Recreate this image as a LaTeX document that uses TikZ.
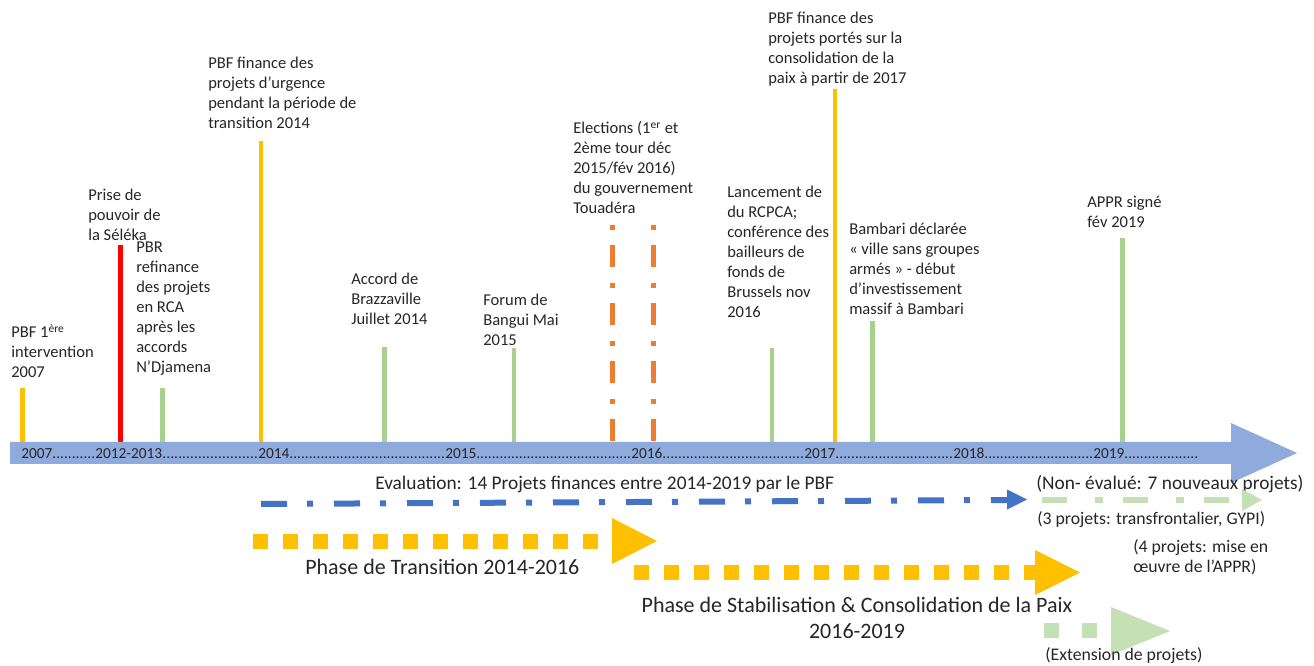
\documentclass[tikz,border=0pt]{standalone}
\usepackage{fontspec}
\setmainfont{Carlito}
\definecolor{bandc}{HTML}{8FAADC}
\definecolor{yel}{HTML}{FFC000}
\definecolor{redc}{HTML}{FF0000}
\definecolor{grn}{HTML}{A9D18E}
\definecolor{lgrn}{HTML}{C5E0B4}
\definecolor{orc}{HTML}{ED7D31}
\definecolor{blu}{HTML}{4472C4}
\definecolor{txt}{HTML}{262626}
\newcommand{\dotsto}[2]{\makebox[#1][l]{#2\xleaders\hbox{.}\hfill}}
\begin{document}
\begin{tikzpicture}[x=0.75pt,y=-0.75pt,
  lbl/.style={font=\fontsize{12.4}{15}\selectfont, align=left, inner sep=0pt, anchor=base west, text=txt},
  mid/.style={font=\fontsize{13.3}{15}\selectfont, align=left, inner sep=0pt, anchor=base west, text=txt},
  lrg/.style={font=\fontsize{14.5}{17}\selectfont, inner sep=0pt, anchor=base west, text=txt},
  yr/.style={font=\fontsize{11.5}{14}\selectfont, inner sep=0pt, anchor=base west, text=txt},
  big/.style={font=\fontsize{16.5}{19.5}\selectfont, inner sep=0pt, text=txt},
  bar/.style={line width=3.4pt},
  sq/.style={line width=11.25pt, dash pattern=on 11.25pt off 11.25pt},
]
\useasboundingbox (0,0) rectangle (1314,666);
\fill[white] (0,0) rectangle (1314,666);

% vertical markers
\draw[bar,yel]  (22.5,388) -- (22.5,443);
\draw[bar,redc] (120.5,245) -- (120.5,443);
\draw[bar,grn]  (162.5,388) -- (162.5,443);
\draw[bar,yel]  (261,141) -- (261,443);
\draw[bar,grn]  (384.5,347) -- (384.5,443);
\draw[bar,grn]  (514,348) -- (514,443);
\draw[orc,line width=3.75pt,dash pattern=on 3.75pt off 11.25pt on 16.5pt off 12pt] (612.5,225) -- (612.5,442);
\draw[orc,line width=3.75pt,dash pattern=on 3.75pt off 11.25pt on 16.5pt off 12pt] (653,225) -- (653,442);
\draw[bar,grn]  (772,348) -- (772,443);
\draw[bar,yel]  (835,89) -- (835,443);
\draw[bar,grn]  (872.5,321) -- (872.5,443);
\draw[bar,grn]  (1122.5,238) -- (1122.5,443);

% timeline band
\fill[bandc] (10,442) -- (1231,442) -- (1231,423) -- (1297,453) -- (1231,483) -- (1231,464) -- (10,464) -- cycle;
\node[yr] (y07) at (21,459)   {\dotsto{55.5pt}{2007}};
\node[yr] (y12) at (95,459)   {\dotsto{122.25pt}{2012-2013}};
\node[yr] (y14) at (258,459)  {\dotsto{140.25pt}{2014}};
\node[yr] (y15) at (445,459)  {\dotsto{139.5pt}{2015}};
\node[yr] (y16) at (631,459)  {\dotsto{129.75pt}{2016}};
\node[yr] (y17) at (804,459)  {\dotsto{111.75pt}{2017}};
\node[yr] (y18) at (953,459)  {\dotsto{105pt}{2018}};
\node[yr] (y19) at (1093,459) {\dotsto{78.75pt}{2019}};

% event labels (anchored at the baseline of their last line)
\node[lbl] (e1) at (11,378) {PBF 1\textsuperscript{ère}\\intervention\\2007};
\node[lbl] (e2) at (88,241) {Prise de\\pouvoir de\\la Séléka};
\node[lbl] (e3) at (136,373) {PBR\\refinance\\des projets\\en RCA\\après les\\accords\\N’Djamena};
\node[lbl] (e4) at (208,129) {PBF finance des\\projets d’urgence\\pendant la période de\\transition 2014};
\node[lbl] (e5) at (351,325) {Accord de\\Brazzaville\\Juillet 2014};
\node[lbl] (e6) at (483,346) {Forum de\\Bangui Mai\\2015};
\node[lbl] (e7) at (573,214) {Elections (1\textsuperscript{er} et\\2ème tour déc\\2015/fév 2016)\\du gouvernement\\Touadéra};
\node[lbl] (e8) at (727,318) {Lancement de\\du RCPCA;\\conférence des\\bailleurs de\\fonds de\\Brussels nov\\2016};
\node[lbl] (e9) at (768,84) {PBF finance des\\projets portés sur la\\consolidation de la\\paix à partir de 2017};
\node[lbl] (e10) at (849,315) {Bambari déclarée\\« ville sans groupes\\armés » - début\\d’investissement\\massif à Bambari};
\node[lbl] (e11) at (1087,228) {APPR signé\\fév 2019};

% evaluation arrows
\node[lrg] (ev) at (375,489) {Evaluation: 14 Projets finances entre 2014-2019 par le PBF};
\draw[blu,line width=4.5pt,dash pattern=on 19.5pt off 15pt on 4.5pt off 15.75pt] (261,504) -- (1008,500);
\fill[blu] (1007,489.5) -- (1027,499.5) -- (1007,509.5) -- cycle;
\node[lrg] (ne) at (1036,489) {(Non- évalué: 7 nouveaux projets)};
\draw[lgrn,line width=4.5pt,dash pattern=on 18.75pt off 21pt on 6pt off 15pt] (1042,500) -- (1243,500);
\fill[lgrn] (1242,489) -- (1262,500) -- (1242,511) -- cycle;
\node[mid] (p3) at (1037,524) {(3 projets: transfrontalier, GYPI)};
\node[mid] (p4) at (1133,572) {(4 projets: mise en\\œuvre de l’APPR)};

% phase arrows
\draw[yel,sq] (253,541) -- (613,541);
\fill[yel] (612,518) -- (657,541) -- (612,564) -- cycle;
\node[big,anchor=base west] (ph1) at (305,574) {Phase de Transition 2014-2016};
\draw[yel,sq] (634,572.5) -- (1036,572.5);
\fill[yel] (1035,550) -- (1080,572.5) -- (1035,595) -- cycle;
\node[big,anchor=base,align=center] (ph2) at (857,638) {Phase de Stabilisation \& Consolidation de la Paix\\2016-2019};
\draw[lgrn,line width=11.25pt,dash pattern=on 11.25pt off 17.25pt] (1044,630) -- (1112,630);
\fill[lgrn] (1111,607) -- (1170,631) -- (1111,655) -- cycle;
\node[mid] (ext) at (1045,660) {(Extension de projets)};
\end{tikzpicture}
\end{document}
